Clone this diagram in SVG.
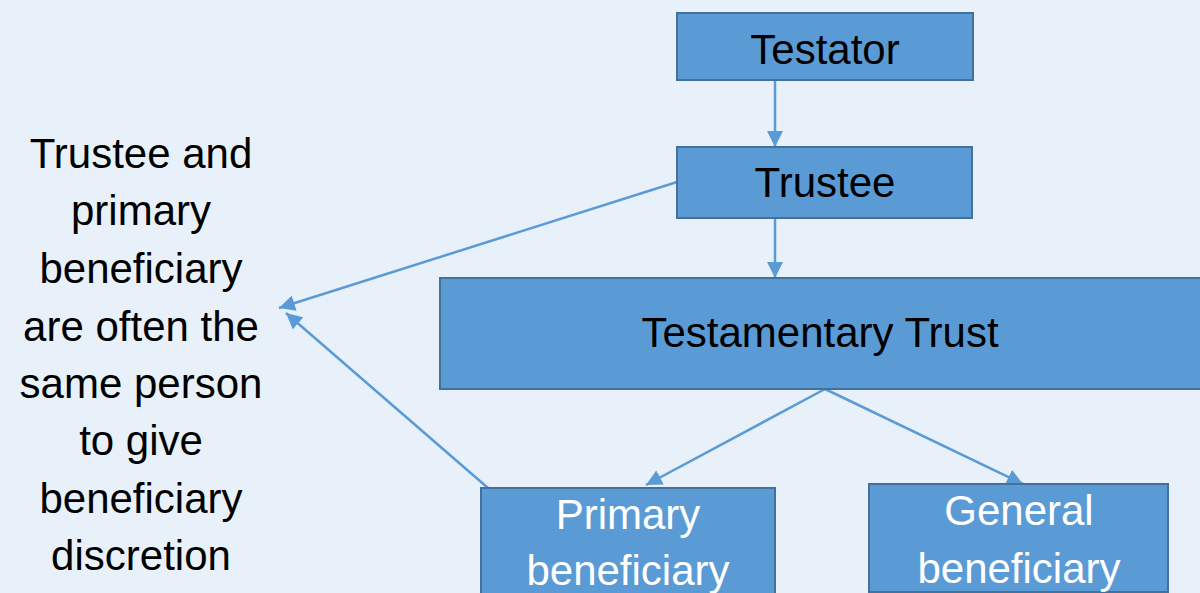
<svg xmlns="http://www.w3.org/2000/svg" width="1200" height="593" viewBox="0 0 1200 593">
  <style>
    .box { fill: #5B9BD5; stroke: #41719C; stroke-width: 2; }
    .lbl { font-family: "Liberation Sans", Arial, sans-serif; font-size: 42px; text-anchor: middle; fill: #000; }
    .wlbl { font-family: "Liberation Sans", Arial, sans-serif; font-size: 42px; text-anchor: middle; fill: #fff; }
    .conn { stroke: #5B9BD5; stroke-width: 2.5; fill: none; marker-end: url(#arr); }
  </style>
  <defs>
    <marker id="arr" markerUnits="userSpaceOnUse" markerWidth="18" markerHeight="16" refX="16" refY="8" orient="auto">
      <path d="M0,0 L16,8 L0,16 Z" fill="#5B9BD5"/>
    </marker>
  </defs>
  <rect x="0" y="0" width="1200" height="593" fill="#E8F0F9"/>

  <g id="note">
    <text class="lbl" x="141" y="168">Trustee and</text>
    <text class="lbl" x="141" y="225">primary</text>
    <text class="lbl" x="141" y="283">beneficiary</text>
    <text class="lbl" x="141" y="341">are often the</text>
    <text class="lbl" x="141" y="398">same person</text>
    <text class="lbl" x="141" y="455">to give</text>
    <text class="lbl" x="141" y="513">beneficiary</text>
    <text class="lbl" x="141" y="570">discretion</text>
  </g>

  <g id="connectors">
    <line class="conn" x1="775" y1="80" x2="775" y2="147"/>
    <line class="conn" x1="775" y1="218" x2="775" y2="278"/>
    <line class="conn" x1="677" y1="182" x2="279" y2="308"/>
    <line class="conn" x1="488" y1="488" x2="286" y2="313"/>
    <line class="conn" x1="825" y1="389" x2="646" y2="485"/>
    <line class="conn" x1="825" y1="389" x2="1023" y2="484"/>
  </g>

  <g id="testator">
    <rect class="box" x="677" y="13" width="296" height="67"/>
    <text class="lbl" x="825" y="64">Testator</text>
  </g>
  <g id="trustee">
    <rect class="box" x="677" y="147" width="295" height="71"/>
    <text class="lbl" x="825" y="197">Trustee</text>
  </g>
  <g id="trust">
    <rect class="box" x="440" y="278" width="770" height="111"/>
    <text class="lbl" x="820" y="347">Testamentary Trust</text>
  </g>
  <g id="primary">
    <rect class="box" x="481" y="488" width="294" height="120"/>
    <text class="wlbl" x="628" y="529">Primary</text>
    <text class="wlbl" x="628" y="585">beneficiary</text>
  </g>
  <g id="general">
    <rect class="box" x="869" y="484" width="299" height="108"/>
    <text class="wlbl" x="1019" y="525">General</text>
    <text class="wlbl" x="1019" y="583">beneficiary</text>
  </g>
</svg>
